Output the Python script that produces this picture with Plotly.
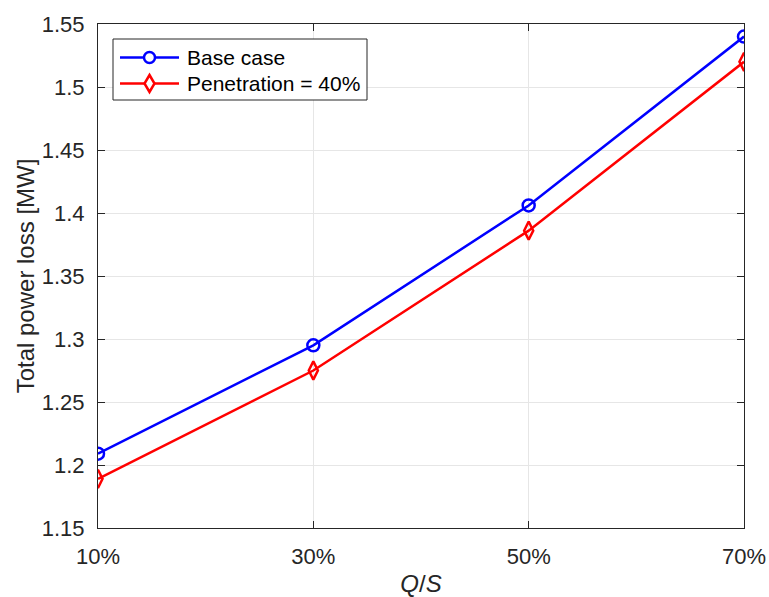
import plotly.graph_objects as go

# Reactive power share Q/S (%) and total losses for each scenario
qs_percent = [10, 30, 50, 70]
loss_base = [1.209, 1.295, 1.406, 1.540]
loss_pen40 = [1.189, 1.275, 1.386, 1.520]

series_names = ["Base case", "Penetration = 40%"]
series_colors = ["#0000ff", "#ff0000"]

y_ticks = [1.15, 1.2, 1.25, 1.3, 1.35, 1.4, 1.45, 1.5, 1.55]
y_tick_text = ["1.15", "1.2", "1.25", "1.3", "1.35", "1.4", "1.45", "1.5", "1.55"]

axis_color = "#262626"
grid_color = "#e6e6e6"
font_family = "Liberation Sans, Arial, Helvetica, sans-serif"
line_w = 2.5

W, H = 769, 597
M_L, M_R, M_T, M_B = 98, 25, 24, 69
plot_w = W - M_L - M_R
plot_h = H - M_T - M_B


def px_x(px):
    """Pixel column -> paper x fraction of the plot area."""
    return (px - M_L) / plot_w


def px_y(py):
    """Pixel row (from top) -> paper y fraction of the plot area."""
    return (H - M_B - py) / plot_h


fig = go.Figure()
fig.add_trace(go.Scatter(
    x=qs_percent, y=loss_base, name=series_names[0], mode="lines+markers",
    line=dict(color=series_colors[0], width=line_w),
    marker=dict(symbol="circle-open", size=12, color=series_colors[0], line=dict(width=line_w)),
    showlegend=False,
))
fig.add_trace(go.Scatter(
    x=qs_percent, y=loss_pen40, name=series_names[1], mode="lines+markers",
    line=dict(color=series_colors[1], width=line_w),
    marker=dict(symbol="diamond-tall-open", size=13, color=series_colors[1], line=dict(width=line_w)),
    showlegend=False,
))

common_axis = dict(
    showline=True, linecolor=axis_color, linewidth=1, mirror="ticks",
    ticks="inside", ticklen=7, tickcolor=axis_color,
    showgrid=True, gridcolor=grid_color, gridwidth=1, zeroline=False,
    automargin=False,
    tickfont=dict(family=font_family, size=22, color=axis_color),
)

fig.update_xaxes(
    range=[10, 70], tickvals=qs_percent,
    ticktext=[f"{v}%" for v in qs_percent],
    ticklabelstandoff=9,
    title=dict(text="<i>Q</i>/<i>S</i>", font=dict(family=font_family, size=24, color=axis_color), standoff=10),
    **common_axis,
)
fig.update_yaxes(
    range=[1.15, 1.55], tickvals=y_ticks, ticktext=y_tick_text,
    ticklabelstandoff=8,
    title=dict(text="Total power loss [MW]", font=dict(family=font_family, size=24, color=axis_color), standoff=0),
    **common_axis,
)

# Legend box drawn in the upper-left corner of the axes
shapes = [dict(
    type="rect", xref="paper", yref="paper",
    x0=px_x(113), x1=px_x(367), y0=px_y(100), y1=px_y(39),
    line=dict(color=axis_color, width=1), fillcolor="white", layer="above",
)]
annotations = []
row_y = [57.5, 83.5]
line_x0, line_x1, text_x = 120, 179, 185
marker_cx = (line_x0 + line_x1) / 2
for name, color, ry in zip(series_names, series_colors, row_y):
    shapes.append(dict(
        type="line", xref="paper", yref="paper",
        x0=px_x(line_x0), x1=px_x(line_x1), y0=px_y(ry), y1=px_y(ry),
        line=dict(color=color, width=line_w), layer="above",
    ))
    annotations.append(dict(
        xref="paper", yref="paper", x=px_x(text_x), y=px_y(ry),
        xanchor="left", yanchor="middle", showarrow=False, text=name,
        font=dict(family=font_family, size=21, color="black"),
    ))

# Legend glyphs: open circle and tall open diamond
shapes.append(dict(
    type="circle", xref="paper", yref="paper",
    xsizemode="pixel", ysizemode="pixel",
    xanchor=px_x(marker_cx), yanchor=px_y(row_y[0]),
    x0=-5.5, x1=5.5, y0=-5.5, y1=5.5,
    line=dict(color=series_colors[0], width=line_w), fillcolor="white", layer="above",
))
shapes.append(dict(
    type="path", xref="paper", yref="paper",
    xsizemode="pixel", ysizemode="pixel",
    xanchor=px_x(marker_cx), yanchor=px_y(row_y[1]),
    path="M0,8.5 L5,0 L0,-8.5 L-5,0 Z",
    line=dict(color=series_colors[1], width=line_w), fillcolor="white", layer="above",
))

fig.update_layout(
    width=W, height=H,
    margin=dict(l=M_L, r=M_R, t=M_T, b=M_B),
    paper_bgcolor="white", plot_bgcolor="white",
    font=dict(family=font_family, color=axis_color),
    showlegend=False,
    shapes=shapes,
    annotations=annotations,
)

fig.write_html("out.html")
